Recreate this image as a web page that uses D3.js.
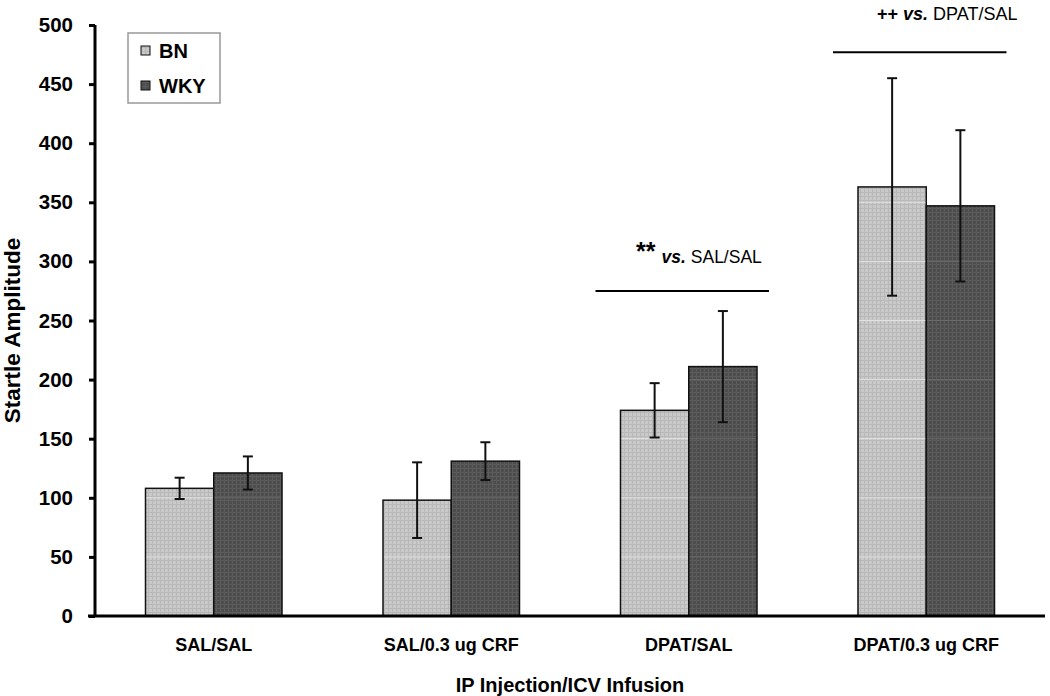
<!DOCTYPE html>
<html>
<head>
<meta charset="utf-8">
<script src="https://cdn.jsdelivr.net/npm/d3@7"></script>
<style>
  body { margin: 0; background: #fff; }
  text { font-family: Arial, "Liberation Sans", sans-serif; }
</style>
</head>
<body>
<div class="canva"></div>
<script>
const categories = ['SAL/SAL', 'SAL/0.3 ug CRF', 'DPAT/SAL', 'DPAT/0.3 ug CRF']
const strains = ['BN', 'WKY']
const bnMean = [108, 98, 174, 363]
const bnErr = [9, 32, 23, 92]
const wkyMean = [121, 131, 211, 347]
const wkyErr = [14, 16, 47, 64]
const yTicks = [0, 50, 100, 150, 200, 250, 300, 350, 400, 450, 500]

const width = 1050, height = 696
const margin = { top: 25, right: 5, bottom: 80, left: 95 }

const svg = d3.select('.canva').append('svg')
  .attr('width', width)
  .attr('height', height)

const defs = svg.append('defs')
function texture(id, base, line) {
  const p = defs.append('pattern')
    .attr('id', id).attr('patternUnits', 'userSpaceOnUse')
    .attr('width', 4).attr('height', 4)
  p.append('rect').attr('width', 4).attr('height', 4).attr('fill', base)
  p.append('rect').attr('x', 0).attr('y', 0).attr('width', 1).attr('height', 4).attr('fill', line)
  p.append('rect').attr('x', 0).attr('y', 0).attr('width', 4).attr('height', 1).attr('fill', line)
}
texture('texBN', '#c9c9c9', '#b8b8b8')
texture('texWKY', '#4d4d4d', '#5c5c5c')
const fills = { BN: 'url(#texBN)', WKY: 'url(#texWKY)' }

const x = d3.scaleBand()
  .domain(categories)
  .range([margin.left, width - margin.right])
  .paddingInner(0).paddingOuter(0)

const xs = d3.scaleBand()
  .domain(strains)
  .range([0, x.bandwidth()])
  .paddingInner(0)
  .paddingOuter(0.74)

const y = d3.scaleLinear()
  .domain([0, 500])
  .range([height - margin.bottom, margin.top])

const rows = []
categories.forEach((c, i) => {
  rows.push({ cat: c, strain: 'BN', mean: bnMean[i], err: bnErr[i] })
  rows.push({ cat: c, strain: 'WKY', mean: wkyMean[i], err: wkyErr[i] })
})

// bars
const bars = svg.append('g')
bars.selectAll('rect')
  .data(rows)
  .enter()
  .append('rect')
  .attr('x', d => x(d.cat) + xs(d.strain))
  .attr('y', d => y(d.mean))
  .attr('width', xs.bandwidth())
  .attr('height', d => y(0) - y(d.mean))
  .attr('fill', d => fills[d.strain])
  .attr('stroke', '#111')
  .attr('stroke-width', 1.5)

// faint gridline artefacts through bars
bars.selectAll('line.grid')
  .data(rows.flatMap(d => yTicks.filter(t => t > 0 && t < d.mean).map(t => ({ d, t }))))
  .enter()
  .append('line')
  .attr('x1', o => x(o.d.cat) + xs(o.d.strain) + 1)
  .attr('x2', o => x(o.d.cat) + xs(o.d.strain) + xs.bandwidth() - 1)
  .attr('y1', o => y(o.t)).attr('y2', o => y(o.t))
  .attr('stroke', o => o.d.strain === 'BN' ? '#e2e2e2' : '#6a6a6a')
  .attr('stroke-width', 1)

// error bars
const eb = svg.append('g').attr('stroke', '#111').attr('stroke-width', 2)
rows.forEach(d => {
  const cx = x(d.cat) + xs(d.strain) + xs.bandwidth() / 2
  eb.append('line').attr('x1', cx).attr('x2', cx)
    .attr('y1', y(d.mean - d.err)).attr('y2', y(d.mean + d.err))
  ;[d.mean - d.err, d.mean + d.err].forEach(v => {
    eb.append('line').attr('x1', cx - 5).attr('x2', cx + 5)
      .attr('y1', y(v)).attr('y2', y(v))
  })
})

// axes
const yAxis = svg.append('g')
  .attr('transform', `translate(${margin.left},0)`)
  .call(d3.axisLeft(y).tickValues(yTicks).tickSize(6).tickPadding(16))
yAxis.select('.domain').attr('stroke', '#000').attr('stroke-width', 3)
  .attr('d', `M0,${y(0)}V${margin.top}`)
yAxis.selectAll('.tick line').attr('stroke', '#000').attr('stroke-width', 3)
yAxis.selectAll('.tick text')
  .attr('font-size', 20.5).attr('font-weight', 'bold').attr('fill', '#000')

const xAxis = svg.append('g')
  .attr('transform', `translate(0,${y(0)})`)
  .call(d3.axisBottom(x).tickSize(0).tickPadding(22))
xAxis.select('.domain').attr('stroke', '#000').attr('stroke-width', 3)
  .attr('d', `M${margin.left - 7},0H${width - margin.right}`)
xAxis.selectAll('.tick text')
  .attr('font-size', 18).attr('font-weight', 'bold').attr('fill', '#000')

svg.append('text')
  .attr('transform', `translate(20,${(y(0) + y(500)) / 2 + 10}) rotate(-90)`)
  .attr('text-anchor', 'middle')
  .attr('font-size', 22.5).attr('font-weight', 'bold')
  .text('Startle Amplitude')

svg.append('text')
  .attr('x', (margin.left + width - margin.right) / 2)
  .attr('y', 692)
  .attr('text-anchor', 'middle')
  .attr('font-size', 20).attr('font-weight', 'bold')
  .text('IP Injection/ICV Infusion')

// legend
const lg = svg.append('g').attr('transform', 'translate(128,33)')
lg.append('rect').attr('width', 92).attr('height', 70)
  .attr('fill', '#fff').attr('stroke', '#999').attr('stroke-width', 1.5)
strains.forEach((s, i) => {
  const row = lg.append('g').attr('transform', `translate(13,${18 + i * 35})`)
  row.append('rect').attr('x', 0).attr('y', -5).attr('width', 9).attr('height', 9)
    .attr('fill', fills[s]).attr('stroke', '#111').attr('stroke-width', 1)
  row.append('text').attr('x', 18).attr('y', 0).attr('dy', '0.35em')
    .attr('font-size', 20).attr('font-weight', 'bold').text(s)
})

// significance annotations
function sig(catIdx, lineVal, tx, ty) {
  const c = categories[catIdx]
  const x1 = x(c) + xs('BN') - 25
  const x2 = x(c) + xs('WKY') + xs.bandwidth() + 12
  svg.append('line').attr('x1', x1).attr('x2', x2)
    .attr('y1', y(lineVal)).attr('y2', y(lineVal))
    .attr('stroke', '#000').attr('stroke-width', 2)
  return svg.append('text').attr('x', tx).attr('y', ty)
}
const t1 = sig(2, 275, 636, 263)
t1.append('tspan').attr('font-size', 25).attr('font-weight', 'bold').attr('dy', -3).text('**')
t1.append('tspan').attr('font-size', 17.5).attr('font-weight', 'bold').attr('font-style', 'italic')
  .attr('dx', 6).attr('dy', 3).text('vs.')
t1.append('tspan').attr('font-size', 17.5).attr('dx', 5).text('SAL/SAL')

const t2 = sig(3, 477, 877, 20)
t2.append('tspan').attr('font-size', 18).attr('font-weight', 'bold').text('++')
t2.append('tspan').attr('font-size', 18).attr('font-weight', 'bold').attr('font-style', 'italic')
  .attr('dx', 5).text('vs.')
t2.append('tspan').attr('font-size', 18).attr('dx', 5).text('DPAT/SAL')
</script>
</body>
</html>
